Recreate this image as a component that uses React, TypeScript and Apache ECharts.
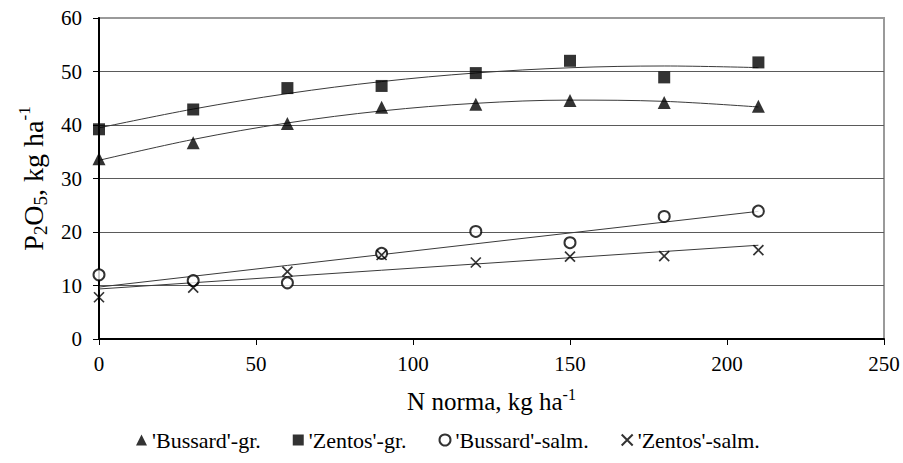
import React, { useEffect, useRef } from "react";
import * as echarts from "echarts";

// ---- data ----
const nRates = [0, 30, 60, 90, 120, 150, 180, 210];
const bussardGr = [33.7, 36.7, 40.3, 43.3, 43.9, 44.6, 44.2, 43.5];
const zentosGr = [39.2, 42.9, 46.9, 47.3, 49.7, 52.0, 48.9, 51.7];
const bussardSalm = [12.0, 10.9, 10.5, 16.0, 20.1, 18.0, 22.9, 23.9];
const zentosSalm = [7.8, 9.6, 12.6, 15.7, 14.3, 15.4, 15.5, 16.6];
const seriesNames = ["'Bussard'-gr.", "'Zentos'-gr.", "'Bussard'-salm.", "'Zentos'-salm."];
const trendDegrees = [2, 2, 1, 1];
const xTicks = [0, 50, 100, 150, 200, 250];
const yTicks = [0, 10, 20, 30, 40, 50, 60];

const FONT = "Liberation Serif";

// least-squares polynomial fit (trend line, like a spreadsheet trendline)
function polyfit(xs: number[], ys: number[], deg: number): number[] {
  const m = deg + 1;
  const A: number[][] = [];
  for (let r = 0; r < m; r++) {
    const row: number[] = [];
    for (let c = 0; c < m; c++) {
      let s = 0;
      for (let i = 0; i < xs.length; i++) s += Math.pow(xs[i], r + c);
      row.push(s);
    }
    let b = 0;
    for (let i = 0; i < xs.length; i++) b += ys[i] * Math.pow(xs[i], r);
    row.push(b);
    A.push(row);
  }
  for (let p = 0; p < m; p++) {
    let best = p;
    for (let r = p + 1; r < m; r++) if (Math.abs(A[r][p]) > Math.abs(A[best][p])) best = r;
    [A[p], A[best]] = [A[best], A[p]];
    for (let r = 0; r < m; r++) {
      if (r === p) continue;
      const f = A[r][p] / A[p][p];
      for (let c = p; c <= m; c++) A[r][c] -= f * A[p][c];
    }
  }
  return A.map((row, i) => row[m] / row[i]);
}

function trend(xs: number[], ys: number[], deg: number): number[][] {
  const co = polyfit(xs, ys, deg);
  return xs.map((x) => [x, co.reduce((s, c, i) => s + c * Math.pow(x, i), 0)]);
}

const allData = [bussardGr, zentosGr, bussardSalm, zentosSalm];
const symbols = ["triangle", "rect", "emptyCircle", "path://M0,0L10,10M10,0L0,10"];
const symbolSizes = [13, 12, 11, 10];

export default function App() {
  const ref = useRef<HTMLDivElement>(null);
  useEffect(() => {
    if (!ref.current) return;
    const chart = echarts.init(ref.current, undefined, { renderer: "svg" });

    const scatter = allData.map((d, k) => ({
      name: seriesNames[k],
      type: "scatter",
      data: nRates.map((x, i) => [x, d[i]]),
      symbol: symbols[k],
      symbolSize: symbolSizes[k],
      itemStyle: {
        color: "#000",
        borderColor: "#000",
        borderWidth: k >= 2 ? 1.7 : 0,
      },
      z: 5,
    }));
    const trends = allData.map((d, k) => ({
      name: seriesNames[k] + " trend",
      type: "line",
      data: trend(nRates, d, trendDegrees[k]),
      smooth: trendDegrees[k] > 1 ? 0.35 : false,
      showSymbol: false,
      symbol: "none",
      lineStyle: { color: "#3a3a3a", width: 1 },
      z: 3,
      silent: true,
    }));

    const richX = {
      m: { fontSize: 25, fontFamily: FONT, color: "#000", lineHeight: 30 },
      u: { fontSize: 16, fontFamily: FONT, color: "#000", lineHeight: 22, verticalAlign: "top" },
    };
    const richY = {
      m: { fontSize: 28, fontFamily: FONT, color: "#000", lineHeight: 34 },
      s: { fontSize: 19, fontFamily: FONT, color: "#000", lineHeight: 19, verticalAlign: "bottom" },
      u: { fontSize: 17, fontFamily: FONT, color: "#000", lineHeight: 24, verticalAlign: "top" },
    };
    const richTick = { t: { fontSize: 21, fontFamily: FONT, color: "#000" } };
    const richLegend = { t: { fontSize: 22, fontFamily: FONT, color: "#000" } };

    chart.setOption({
      animation: false,
      backgroundColor: "#fff",
      textStyle: { fontFamily: FONT },
      grid: {
        left: 99,
        right: 19,
        top: 18,
        bottom: 124,
        show: true,
        borderColor: "#9a9a9a",
        borderWidth: 2,
        backgroundColor: "transparent",
        outerBoundsMode: "none",
      },
      legend: {
        data: seriesNames,
        left: 131,
        top: 424,
        itemWidth: 11,
        itemHeight: 11,
        itemGap: 32,
        formatter: (n: string) => "{t|" + n + "}",
        textStyle: { fontSize: 22, fontFamily: FONT, color: "#000", rich: richLegend },
      },
      xAxis: {
        type: "value",
        min: xTicks[0],
        max: xTicks[xTicks.length - 1],
        interval: xTicks[1] - xTicks[0],
        name: "{m|N norma, kg ha}{u|-1}",
        nameLocation: "middle",
        nameGap: 47,
        nameTextStyle: { rich: richX },
        axisLine: { show: true, lineStyle: { color: "#000", width: 2 } },
        axisTick: { show: true, inside: false, length: 6, lineStyle: { color: "#000", width: 1 } },
        axisLabel: {
          fontSize: 21,
          fontFamily: FONT,
          color: "#000",
          margin: 14,
          formatter: (v: number) => "{t|" + v + "}",
          rich: richTick,
        },
        splitLine: { show: false },
      },
      yAxis: {
        type: "value",
        min: yTicks[0],
        max: yTicks[yTicks.length - 1],
        interval: yTicks[1] - yTicks[0],
        name: "{m|P}{s|2}{m|O}{s|5}{m|, kg ha}{u|-1}",
        nameLocation: "middle",
        nameRotate: 90,
        nameGap: 43,
        nameTextStyle: { rich: richY },
        axisLine: { show: true, lineStyle: { color: "#000", width: 2 } },
        axisTick: { show: true, inside: false, length: 6, lineStyle: { color: "#000", width: 1 } },
        axisLabel: {
          fontSize: 21,
          fontFamily: FONT,
          color: "#000",
          margin: 17,
          formatter: (v: number) => "{t|" + v + "}",
          rich: richTick,
        },
        splitLine: { show: true, showMinLine: false, showMaxLine: false, lineStyle: { color: "#5a5a5a", width: 1 } },
      },
      series: [...trends, ...scatter],
    });
    return () => chart.dispose();
  }, []);
  return (
    <div
      ref={ref}
      style={{ position: "fixed", left: 0, top: 0, width: 903, height: 463, background: "#fff" }}
    />
  );
}
